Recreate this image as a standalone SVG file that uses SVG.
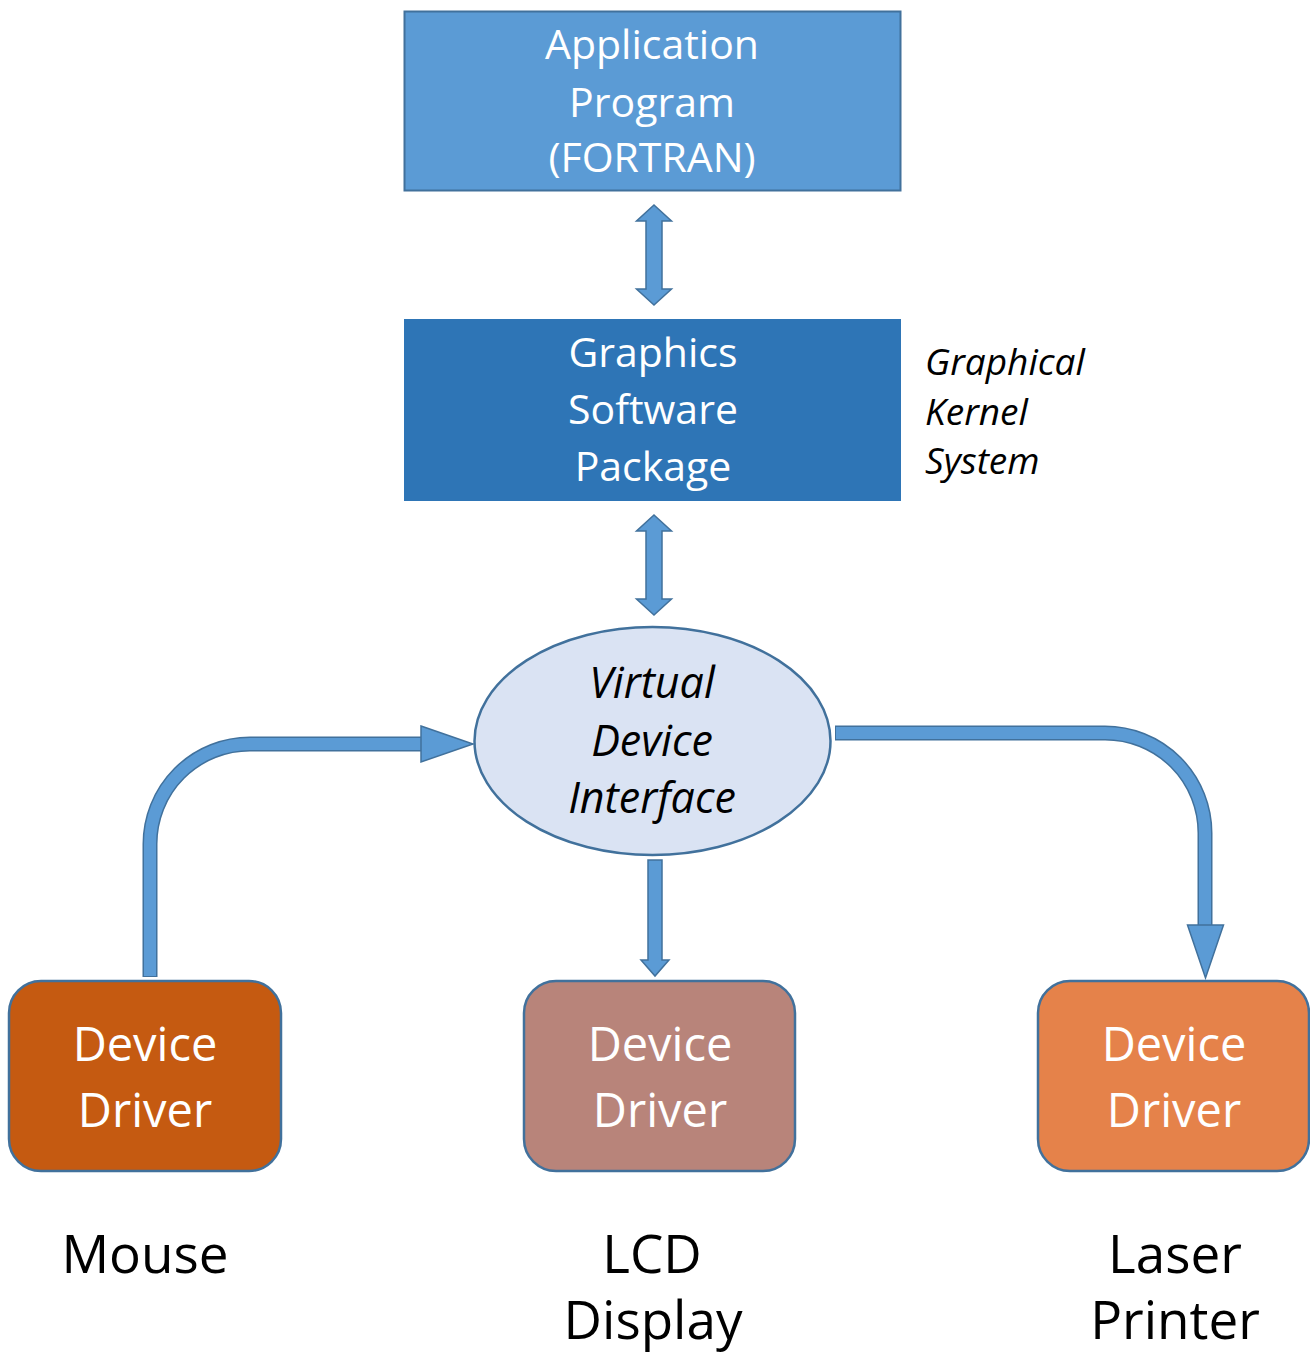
<svg xmlns="http://www.w3.org/2000/svg" width="1310" height="1355" viewBox="0 0 1310 1355">
<style>
  .t { font-family: "Open Sans", "Liberation Sans", sans-serif; text-anchor: middle; }
  .w { fill: #ffffff; }
  .k { fill: #000000; }
  .it { font-style: italic; }
  .blk { fill: #5B9BD5; stroke: #41719C; stroke-width: 1.5; stroke-linejoin: miter; }
  .lineOut { fill: none; stroke: #41719C; stroke-width: 15; }
  .lineIn { fill: none; stroke: #5B9BD5; stroke-width: 12; }
  .drv { stroke: #41719C; stroke-width: 2.5; }
</style>
<rect x="0" y="0" width="1310" height="1355" fill="#ffffff"/>

<g id="app">
  <rect x="404.5" y="11.5" width="496" height="179" fill="#5B9BD5" stroke="#41719C" stroke-width="2"/>
  <text class="t w" x="652" y="59" font-size="41">Application</text>
  <text class="t w" x="652" y="117" font-size="41">Program</text>
  <text class="t w" x="652" y="172" font-size="41">(FORTRAN)</text>
</g>

<g id="gsp">
  <rect x="404" y="319" width="497" height="182" fill="#2E75B6"/>
  <text class="t w" x="653" y="367" font-size="41">Graphics</text>
  <text class="t w" x="653" y="424" font-size="41">Software</text>
  <text class="t w" x="653" y="481" font-size="41">Package</text>
</g>

<g id="gks">
  <text class="t k it" x="925" y="375" font-size="37" style="text-anchor:start">Graphical</text>
  <text class="t k it" x="925" y="425" font-size="37" style="text-anchor:start">Kernel</text>
  <text class="t k it" x="925" y="474" font-size="37" style="text-anchor:start">System</text>
</g>

<g id="vdi">
  <ellipse cx="652.5" cy="741" rx="178" ry="114" fill="#DAE3F3" stroke="#41719C" stroke-width="2.5"/>
  <text class="t k it" x="652" y="698" font-size="43">Virtual</text>
  <text class="t k it" x="652" y="756" font-size="43">Device</text>
  <text class="t k it" x="652" y="813" font-size="43">Interface</text>
</g>

<g id="mouseDriver">
  <rect class="drv" x="9" y="981" width="272" height="190" rx="32" fill="#C55A11"/>
  <text class="t w" x="145" y="1061" font-size="47">Device</text>
  <text class="t w" x="145" y="1127" font-size="47">Driver</text>
</g>
<g id="lcdDriver">
  <rect class="drv" x="524" y="981" width="271" height="190" rx="32" fill="#B8847A"/>
  <text class="t w" x="660" y="1061" font-size="47">Device</text>
  <text class="t w" x="660" y="1127" font-size="47">Driver</text>
</g>
<g id="laserDriver">
  <rect class="drv" x="1038" y="981" width="271" height="190" rx="32" fill="#E5824A"/>
  <text class="t w" x="1174" y="1061" font-size="47">Device</text>
  <text class="t w" x="1174" y="1127" font-size="47">Driver</text>
</g>

<g id="mouseLabel"><text class="t k" x="145" y="1273" font-size="53">Mouse</text></g>
<g id="lcdLabel">
  <text class="t k" x="652" y="1273" font-size="53">LCD</text>
  <text class="t k" x="653" y="1339" font-size="53">Display</text>
</g>
<g id="laserLabel">
  <text class="t k" x="1175" y="1273" font-size="53">Laser</text>
  <text class="t k" x="1175" y="1339" font-size="53">Printer</text>
</g>

<g id="connectors">
  <polygon class="blk" points="654,205 671.5,221 662,221 662,289 671.5,289 654,305 636.5,289 646,289 646,221 636.5,221"/>
  <polygon class="blk" points="654,515 671.5,531 662,531 662,599 671.5,599 654,615 636.5,599 646,599 646,531 636.5,531"/>
  <polygon class="blk" points="648,860 662,860 662,960 669,960 655,976 641,960 648,960"/>
  <path class="lineOut" d="M150,977 V844 A100,100 0 0 1 250,744 H423"/>
  <path class="lineIn" d="M150,976 V844 A100,100 0 0 1 250,744 H424"/>
  <polygon class="blk" points="421,726 473,744 421,762"/>
  <path class="lineOut" d="M835,733 H1105 A100,100 0 0 1 1205,833 V927"/>
  <path class="lineIn" d="M836,733 H1105 A100,100 0 0 1 1205,833 V928"/>
  <polygon class="blk" points="1187.5,925 1223.5,925 1205.5,978"/>
</g>
</svg>
